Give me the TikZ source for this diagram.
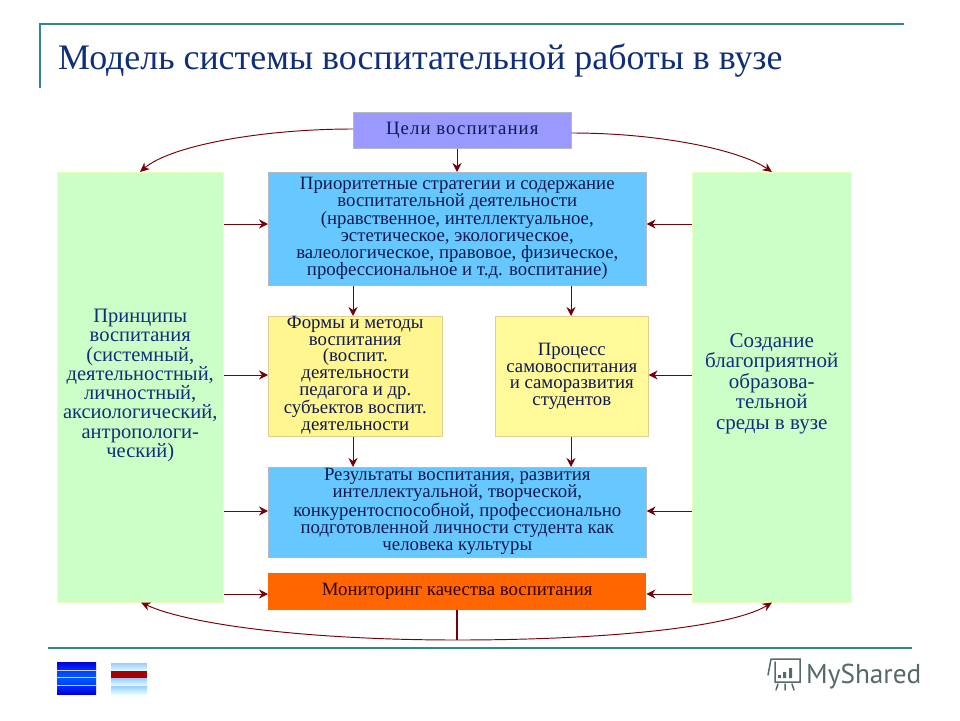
\documentclass[tikz,border=0pt]{standalone}
\usepackage{fontspec}
\setmainfont{Liberation Serif}
\newfontfamily\logofont{PT Sans}
\usetikzlibrary{arrows.meta,calc}
\definecolor{teal1}{HTML}{2E8B8B}
\definecolor{titleblue}{HTML}{0F2F78}
\definecolor{navy1}{HTML}{101A50}
\definecolor{darkred1}{HTML}{750008}
\definecolor{edgegrey}{HTML}{B4B8C4}
\definecolor{lilac1}{HTML}{9999FF}
\definecolor{sky1}{HTML}{66C8FF}
\definecolor{green1}{HTML}{CCFFC8}
\definecolor{yellow1}{HTML}{FFF68F}
\definecolor{yellow2}{HTML}{FFF999}
\definecolor{yedge}{HTML}{E0D090}
\definecolor{orange1}{HTML}{FF6600}
\definecolor{logogrey}{HTML}{56686A}
\tikzset{
 x=1pt,y=-1pt,
 boxbase/.style={anchor=north west,inner sep=0pt,align=center,text=navy1,font=\fontsize{18.8}{17.2}\selectfont},
 lilac/.style={boxbase,fill=lilac1,draw=edgegrey,line width=.6pt},
 skyb/.style={boxbase,fill=sky1,draw=edgegrey,line width=.6pt},
 greenb/.style={boxbase,fill=green1,draw=green1!70!yellow!60,line width=.5pt,text=titleblue},
 yellowb/.style={boxbase,draw=yedge,line width=.6pt,font=\fontsize{18.8}{16.6}\selectfont},
 orangeb/.style={boxbase,fill=orange1,text=black!80!red},
 conn/.style={darkred1,line width=1pt,-{Stealth[length=9pt,width=9pt]}},
 curve/.style={darkred1,line width=.95pt,-{Stealth[length=9.5pt,width=8.5pt]}},
 rule1/.style={teal1,line width=2pt},
}
\begin{document}
\begin{tikzpicture}
\useasboundingbox (0,0) rectangle (960,720);
% frame rules
\coordinate (tl) at (39,24); \coordinate (tr) at (904,24); \coordinate (vb) at (40,88);
\draw[rule1] (tl) -- (tr);
\draw[rule1] (tl -| vb) -- (vb);
\coordinate (bl) at (48,648); \coordinate (br) at (912,648);
\draw[rule1] (bl) -- (br);
\node[anchor=base west,inner sep=0pt,text=titleblue,font=\fontsize{35.9}{40}\selectfont] (title) at (58,69) {Модель системы воспитательной работы в вузе};
% boxes
\node[lilac,minimum width=218,minimum height=36,text depth=3.5pt,font={\addfontfeature{LetterSpace=5.6}\fontsize{18.8}{17.2}\selectfont}] (goals) at (353,112) {Цели воспитания};
\node[skyb,minimum width=378,minimum height=113,text depth=4.5pt] (strat) at (268,172) {Приоритетные стратегии и содержание\\воспитательной деятельности\\(нравственное, интеллектуальное,\\эстетическое, экологическое,\\валеологическое, правовое, физическое,\\профессиональное и т.д. воспитание)};
\node[greenb,minimum width=166,minimum height=430,text depth=8pt,font=\fontsize{20.5}{19.3}\selectfont] (princ) at (57,172) {Принципы\\воспитания\\(системный,\\деятельностный,\\личностный,\\аксиологический,\\антропологи-\\ческий)};
\node[greenb,minimum width=159,minimum height=430,text depth=12pt,font=\fontsize{21}{20.4}\selectfont] (env) at (692,172) {Создание\\благоприятной\\образова-\\тельной\\среды в вузе};
\node[yellowb,fill=yellow1,minimum width=174,minimum height=120,text depth=6pt] (forms) at (268,316) {Формы и методы\\воспитания\\(воспит.\\деятельности\\педагога и др.\\субъектов воспит.\\деятельности};
\node[yellowb,fill=yellow2,minimum width=153,minimum height=120,text depth=4pt] (proc) at (495,316) {Процесс\\самовоспитания\\и саморазвития\\студентов};
\node[skyb,minimum width=378,minimum height=90,text depth=6pt] (res) at (268,467) {Результаты воспитания, развития\\интеллектуальной, творческой,\\конкурентоспособной, профессионально\\подготовленной личности студента как\\человека культуры};
\node[orangeb,minimum width=378,minimum height=37,text depth=4pt] (mon) at (268,573) {Мониторинг качества воспитания};
% vertical connectors
\draw[conn] (goals.south -| 457,0) -- (strat.north -| 457,0);
\draw[conn] (strat.south -| 353,0) -- (forms.north -| 353,0);
\draw[conn] (strat.south -| 571,0) -- (proc.north -| 571,0);
\draw[conn] (forms.south -| 353,0) -- (res.north -| 353,0);
\draw[conn] (proc.south -| 571,0) -- (res.north -| 571,0);
% horizontal connectors
\draw[conn] (princ.east |- 0,224) -- (strat.west |- 0,224);
\draw[conn] (env.west |- 0,224) -- (strat.east |- 0,224);
\draw[conn] (princ.east |- 0,375) -- (forms.west |- 0,375);
\draw[conn] (env.west |- 0,375) -- (proc.east |- 0,375);
\draw[conn] (princ.east |- 0,511) -- (res.west |- 0,511);
\draw[conn] (env.west |- 0,511) -- (res.east |- 0,511);
\draw[conn] (princ.east |- 0,594) -- (mon.west |- 0,594);
\draw[conn] (env.west |- 0,594) -- (mon.east |- 0,594);
% curved connectors
\draw[curve] (goals.west |- 0,129) .. controls (260,129) and (170,146) .. (princ.north -| 140,0);
\draw[curve] (goals.east |- 0,133) .. controls (660,133) and (740,150) .. (env.north -| 772,0);
\coordinate (join) at (457,640);
\draw[darkred1,line width=1.6pt] (mon.south -| join) -- (join);
\draw[curve] (join) .. controls (310,640) and (190,625) .. (princ.south -| 141,0);
\draw[curve] (join) .. controls (600,640) and (730,628) .. (env.south -| 772,0);
% nav icons
\shade[top color=blue!85!black,bottom color=blue!80!cyan] (57,662) rectangle (96,670);
\shade[top color=blue!75!cyan,bottom color=blue!65!cyan] (57,670) rectangle (96,677);
\shade[top color=blue!65!cyan,bottom color=blue!75!cyan] (57,677) rectangle (96,685);
\shade[top color=blue!80!cyan,bottom color=blue!85!black] (57,685) rectangle (96,694);
\foreach \yy in {670,677,685} \draw[white!80!blue,line width=.8pt] (57,\yy) -- (96,\yy);
\foreach \ya/\yb in {663/671,678/686,686/694} \shade[top color=cyan!50!blue!40,bottom color=cyan!10] (111,\ya) rectangle (147,\yb);
\fill[red!65!black] (111,671) rectangle (147,678);
% watermark
\begin{scope}[draw=logogrey,line width=1.5pt,line cap=round]
\draw (771,659) -- (800,659) -- (800,682) -- (775,682) -- (775,662) (768,675) -- (771,659);
\fill[logogrey] (778,675) rectangle (781,678) (783,672) rectangle (786,678) (789,668) rectangle (792,678);
\draw (778,684) -- (776,690) (785,684) -- (785,690) (792,684) -- (794,690);
\end{scope}
\node[anchor=base west,inner sep=0pt,text=logogrey,font=\logofont\fontsize{27.3}{30}\selectfont] (logo) at (806,683) {MyShared};
\end{tikzpicture}
\end{document}
